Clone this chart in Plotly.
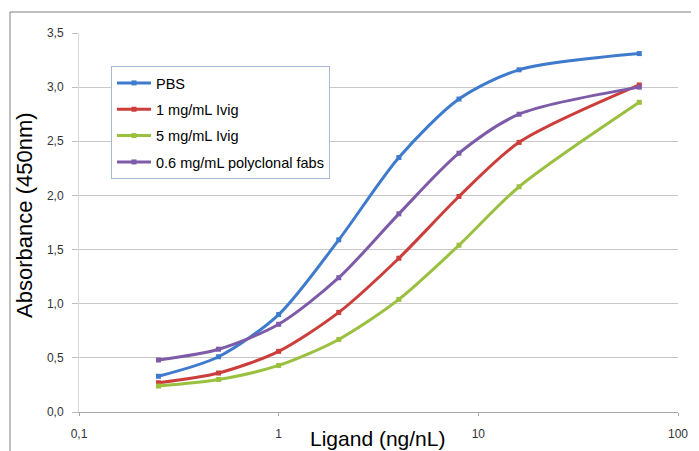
import plotly.graph_objects as go

ligand = [0.25, 0.5, 1, 2, 4, 8, 16, 64]
pbs = [0.33, 0.51, 0.90, 1.59, 2.35, 2.89, 3.16, 3.31]
ivig1 = [0.27, 0.36, 0.56, 0.92, 1.42, 1.99, 2.49, 3.02]
ivig5 = [0.24, 0.30, 0.43, 0.67, 1.04, 1.54, 2.08, 2.86]
fabs = [0.48, 0.58, 0.81, 1.24, 1.83, 2.39, 2.75, 3.00]

series = [
    ("PBS", pbs, "#3F7BCC"),
    ("1 mg/mL Ivig", ivig1, "#CC3E3B"),
    ("5 mg/mL Ivig", ivig5, "#9AC03F"),
    ("0.6 mg/mL polyclonal fabs", fabs, "#7D5BA8"),
]

y_ticks = [0, 0.5, 1.0, 1.5, 2.0, 2.5, 3.0, 3.5]
y_labels = ["0,0", "0,5", "1,0", "1,5", "2,0", "2,5", "3,0", "3,5"]
x_ticks = [0.1, 1, 10, 100]
x_labels = ["0,1", "1", "10", "100"]

fig = go.Figure()
for i, (name, vals, col) in enumerate(series):
    fig.add_trace(go.Scatter(
        x=ligand, y=vals, name=name, mode="lines+markers",
        line=dict(color=col, width=3, shape="spline", smoothing=0.8),
        marker=dict(symbol="square", size=5, color=col),
        legendgroup=f"g{i}",
    ))

fig.update_layout(
    template="none",
    width=691, height=443,
    margin=dict(l=71, r=21, t=25, b=39, autoexpand=False),
    paper_bgcolor="white", plot_bgcolor="white",
    font=dict(family="Liberation Sans, Arial, sans-serif", color="#333333"),
    showlegend=True,
    legend=dict(
        x=0.0534, y=0.913, xanchor="left", yanchor="top",
        bgcolor="white", bordercolor="#A8B8D8", borderwidth=1,
        font=dict(size=14.5, color="#000000"),
        tracegroupgap=4.5, traceorder="grouped", itemwidth=34,
    ),
    xaxis=dict(
        type="log", range=[-1, 2], automargin=False,
        tickvals=x_ticks, ticktext=x_labels,
        tickfont=dict(size=12, color="#333333"),
        showgrid=False, showline=True, linecolor="#A6A6A6", linewidth=1,
        ticks="outside", ticklen=3, tickcolor="#A6A6A6",
        ticklabelstandoff=8,
        zeroline=False,
    ),
    yaxis=dict(
        range=[0, 3.5], automargin=False,
        tickvals=y_ticks, ticktext=y_labels,
        tickfont=dict(size=12, color="#333333"),
        showgrid=True, gridcolor="#C8C8C8", gridwidth=1,
        showline=True, linecolor="#D9D9D9", linewidth=1,
        ticks="outside", ticklen=6, tickcolor="#BFBFBF",
        ticklabelstandoff=6,
        zeroline=False,
    ),
    annotations=[
        dict(text="Ligand (ng/nL)", xref="paper", yref="paper", x=0.499, y=-0.0712,
             xanchor="center", yanchor="middle", showarrow=False,
             font=dict(size=21, color="#000000")),
        dict(text="Absorbance (450nm)", xref="paper", yref="paper", x=-0.0902, y=0.52,
             xanchor="center", yanchor="middle", showarrow=False, textangle=-90,
             font=dict(size=22, color="#000000")),
    ],
)

fig.add_shape(type="line", xref="paper", yref="paper",
              x0=-0.1152, x1=1.05, y0=1.0554, y1=1.0554,
              line=dict(color="#7F7F7F", width=1))
fig.add_shape(type="line", xref="paper", yref="paper",
              x0=-0.1152, x1=-0.1152, y0=-0.12, y1=1.0554,
              line=dict(color="#7F7F7F", width=1))

fig.write_html("out.html")
